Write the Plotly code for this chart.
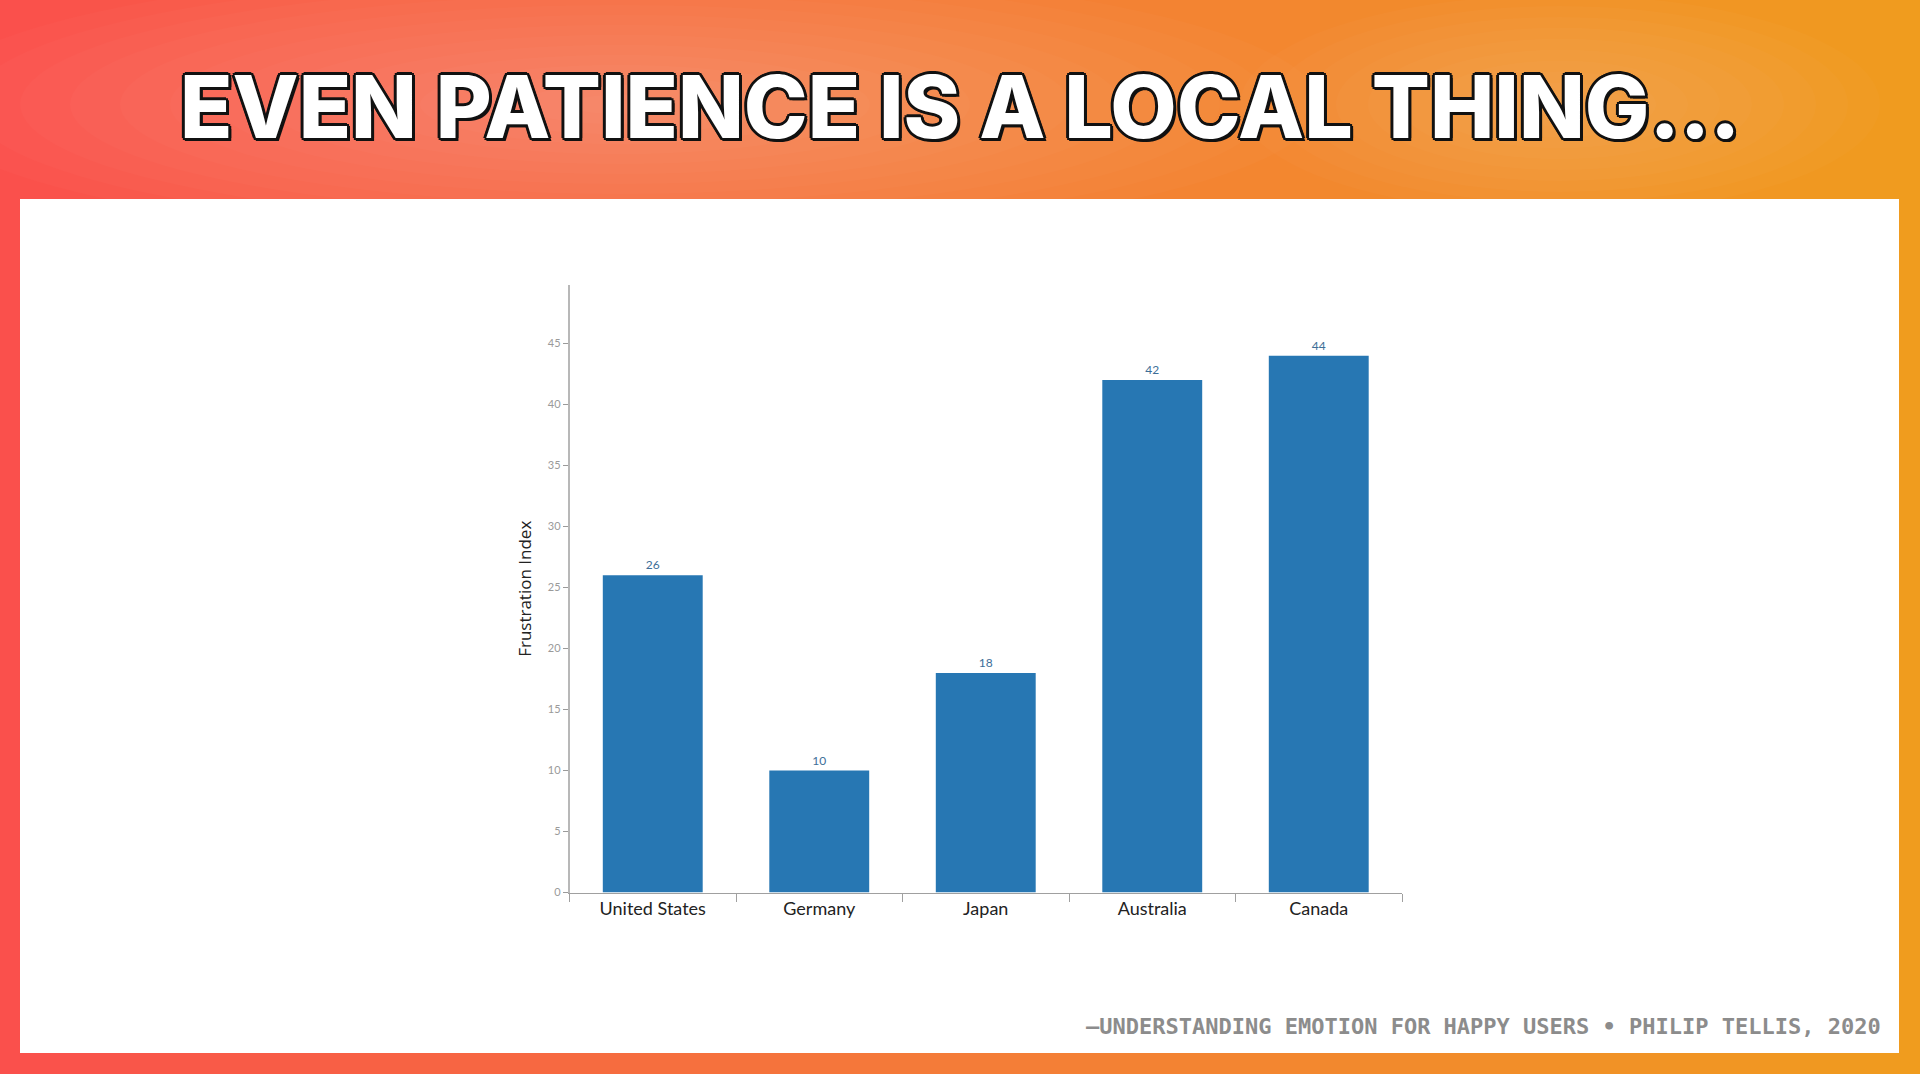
"""
plot.py: frustration index by country, drawn as a slide with a gradient frame.
"""

import plotly.graph_objects as go

# Data.
COUNTRIES = ["United States", "Germany", "Japan", "Australia", "Canada"]
FRUSTRATION = [26, 10, 18, 42, 44]
Y_TICKS = [0, 5, 10, 15, 20, 25, 30, 35, 40, 45]

TITLE = "EVEN PATIENCE IS A LOCAL THING..."
FOOTER = "–UNDERSTANDING EMOTION FOR HAPPY USERS • PHILIP TELLIS, 2020"
Y_TITLE = "Frustration Index"

# Palette.
BAR_COLOR = "#2777b3"
LABEL_COLOR = "#3d6e98"
TICK_COLOR = "#9a9a9a"
# Horizontal gradient stops for the frame (position 0..1, rgb).
GRADIENT = [(0.0, (250, 80, 76)), (0.5, (244, 124, 56)), (1.0, (240, 156, 30))]

W, H = 1920, 1080


def lerp_color(t):
    for (p0, c0), (p1, c1) in zip(GRADIENT, GRADIENT[1:]):
        if p0 <= t <= p1:
            f = (t - p0) / (p1 - p0)
            return "rgb({},{},{})".format(*(round(a + (b - a) * f) for a, b in zip(c0, c1)))
    return "rgb({},{},{})".format(*GRADIENT[-1][1])


def glow(cx, cy, rx, ry, steps=14, opacity=0.018):
    """Stack of faint white ellipses -> soft radial highlight."""
    out = []
    for k in range(steps):
        f = 1 - k / steps
        out.append(dict(
            type="circle", xref="paper", yref="paper",
            x0=(cx - rx * f) / W, x1=(cx + rx * f) / W,
            y0=1 - (cy + ry * f) / H, y1=1 - (cy - ry * f) / H,
            fillcolor="white", opacity=opacity, line_width=0, layer="below",
        ))
    return out


shapes = []

# Background gradient as thin vertical strips.
n_strips = 96
for i in range(n_strips):
    x0 = i / n_strips
    x1 = (i + 1) / n_strips
    shapes.append(dict(
        type="rect", xref="paper", yref="paper", x0=x0, x1=x1 + 0.002, y0=0, y1=1,
        fillcolor=lerp_color((x0 + x1) / 2), line_width=0, layer="below",
    ))

# Soft light glow behind the title.
shapes += glow(620, 105, 700, 140)
shapes += glow(1560, 105, 320, 110, steps=10)

# White content panel.
shapes.append(dict(
    type="rect", xref="paper", yref="paper",
    x0=20 / W, x1=1899 / W, y0=1 - 1059 / H, y1=1 - 200 / H,
    fillcolor="white", line_width=0, layer="below",
))

fig = go.Figure()
fig.add_trace(
    go.Bar(
        x=COUNTRIES,
        y=FRUSTRATION,
        marker=dict(color=BAR_COLOR, line_width=0),
        text=FRUSTRATION,
        texttemplate="%{text}",
        textposition="outside",
        textfont=dict(family="Lato", size=12, color=LABEL_COLOR),
        cliponaxis=False,
        showlegend=False,
        hoverinfo="x+y",
    )
)

# Outline effect for the headline via stacked text shadows.
outline = ", ".join(
    f"{dx}px {dy}px 0 #111"
    for dx, dy in [(-3, 0), (3, 0), (0, -3), (0, 3), (-2, -2), (2, -2), (-2, 2), (2, 2), (3, 3)]
)

fig.add_annotation(
    text=TITLE, xref="paper", yref="paper", x=0.5, y=1 - 108 / H,
    xanchor="center", yanchor="middle", showarrow=False,
    font=dict(family="Inter", size=86, color="white", weight=800, shadow=outline),
)
fig.add_annotation(
    text=FOOTER, xref="paper", yref="paper", x=1883 / W, y=1 - 1032 / H,
    xanchor="right", yanchor="middle", showarrow=False,
    font=dict(family="DejaVu Sans Mono", size=22, color="#8c8c8c", weight="bold"),
)

fig.update_layout(
    width=W,
    height=H,
    margin=dict(l=0, r=0, t=0, b=0),
    paper_bgcolor="white",
    plot_bgcolor="rgba(0,0,0,0)",
    shapes=shapes,
    bargap=0.4,
    xaxis=dict(
        domain=[569.5 / W, 1402 / W],
        showline=True, linecolor="#a0a0a0", linewidth=1,
        ticks="outside", ticklen=8, tickcolor="#a0a0a0", tickson="boundaries",
        tickfont=dict(family="Lato", size=18, color="#222"),
        showgrid=False, zeroline=False,
    ),
    yaxis=dict(
        domain=[1 - 897.6 / H, 1 - 286.5 / H],
        range=[0, 49.8],
        tickvals=Y_TICKS,
        showline=True, linecolor="#b8b8b8", linewidth=1.5,
        ticks="outside", ticklen=5, tickcolor=TICK_COLOR,
        tickfont=dict(family="Lato", size=11, color=TICK_COLOR),
        showgrid=False, zeroline=False,
        title=dict(text=Y_TITLE, standoff=12,
                   font=dict(family="Open Sans", size=17, color="#222")),
    ),
)

# Drop the browser's default body margin so the slide fills the window exactly.
fig.write_html(
    "out.html",
    config={"displayModeBar": False},
    post_script=(
        "document.body.style.margin='0';"
        "document.body.style.overflow='hidden';"
        "document.documentElement.style.overflow='hidden';"
    ),
)
